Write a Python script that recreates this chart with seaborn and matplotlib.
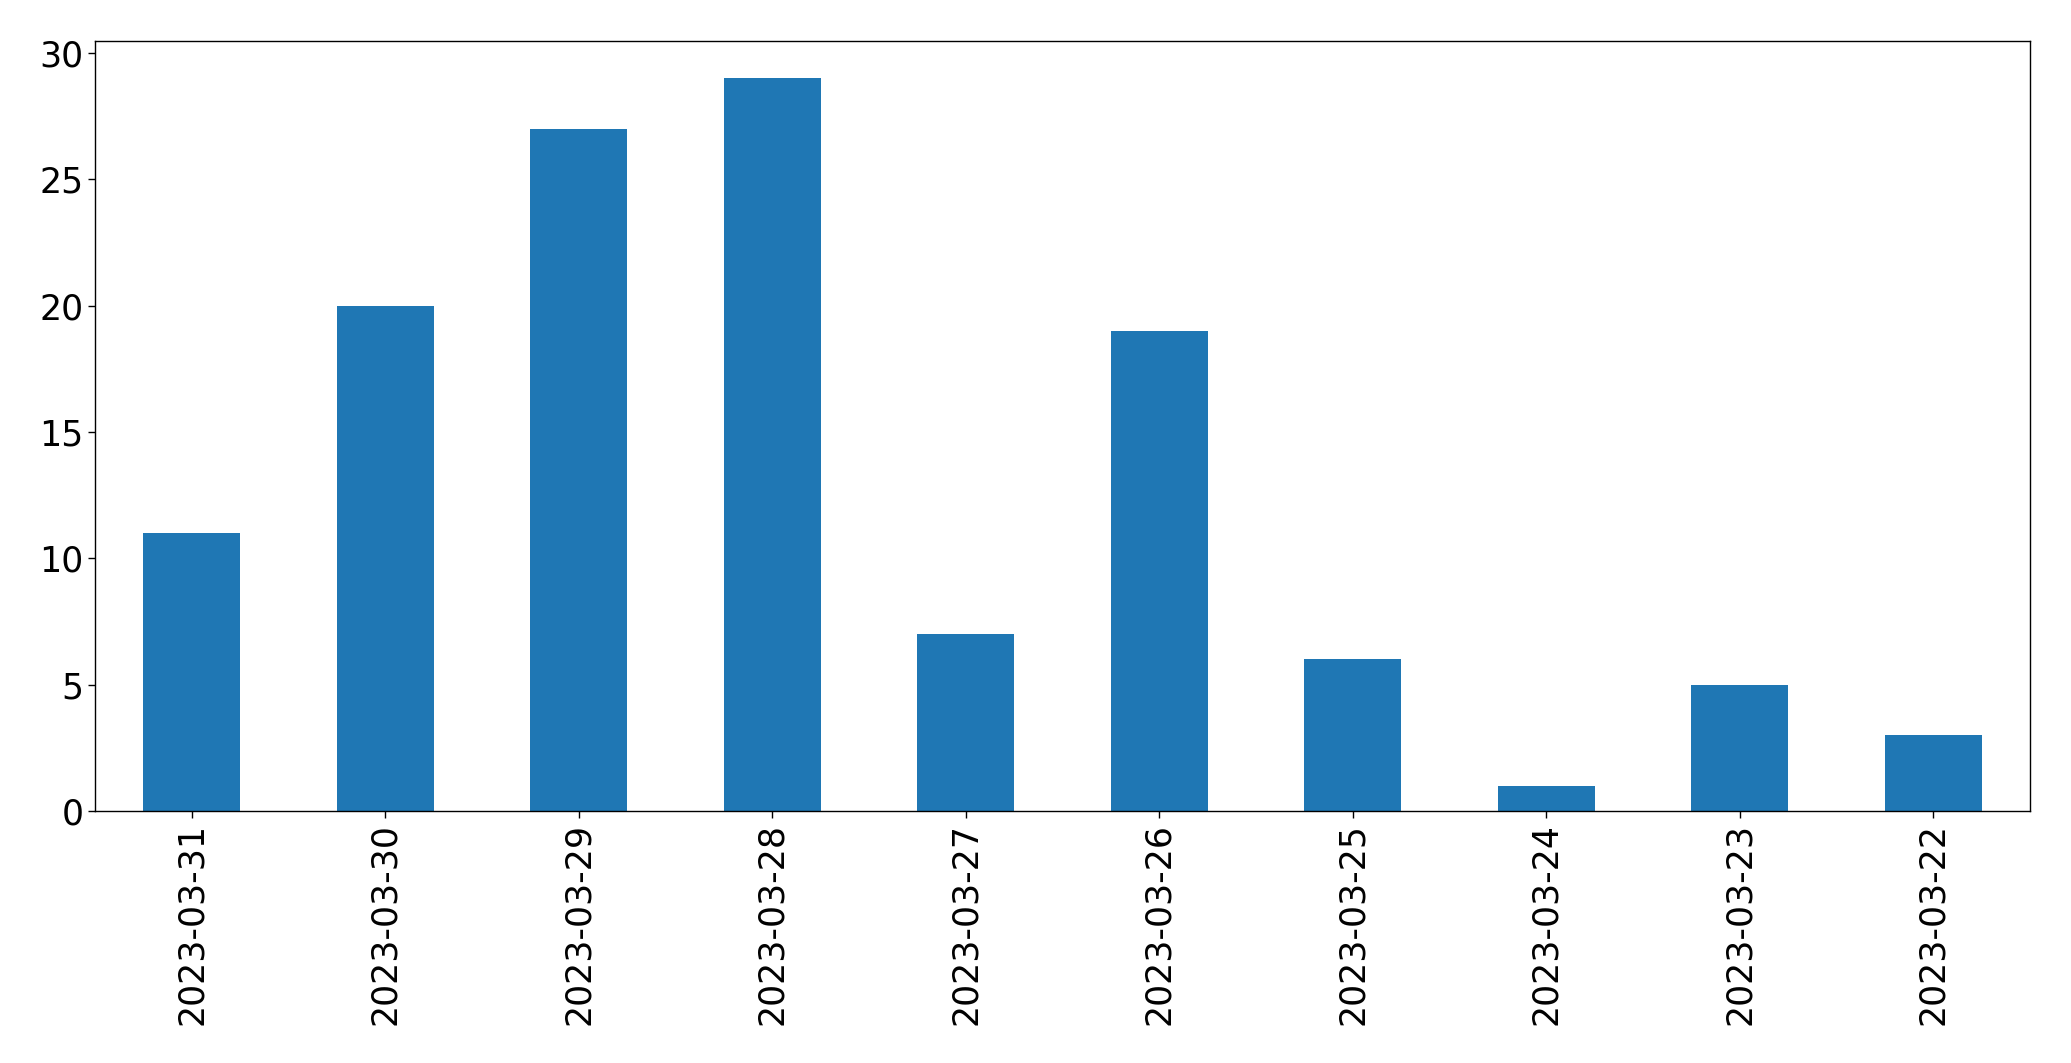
import matplotlib
matplotlib.use('Agg')
import matplotlib.pyplot as plt
import seaborn as sns
import pandas as pd

# Daily counts, newest first (as in the reference)
dates = ['2023-03-31', '2023-03-30', '2023-03-29', '2023-03-28', '2023-03-27',
         '2023-03-26', '2023-03-25', '2023-03-24', '2023-03-23', '2023-03-22']
counts = [11, 20, 27, 29, 7, 19, 6, 1, 5, 3]

df = pd.DataFrame({'date': dates, 'count': counts})

sns.set_style('ticks')
plt.rcParams['font.family'] = ['DejaVu Sans']
plt.rcParams['text.color'] = 'black'
plt.rcParams['xtick.color'] = 'black'
plt.rcParams['ytick.color'] = 'black'
plt.rcParams['axes.edgecolor'] = 'black'

fig = plt.figure(figsize=(20.71, 10.63), dpi=100)
ax = fig.add_axes([0.0459, 0.237, 0.9343, 0.724])

sns.barplot(data=df, x='date', y='count', order=dates, color='#1f77b4',
            saturation=1, width=0.5, linewidth=0, edgecolor='none', ax=ax)

ax.set_xlim(-0.5, len(dates) - 0.5)
ax.set_ylim(0, 30.45)
ax.set_xlabel('')
ax.set_ylabel('')
ax.tick_params(axis='both', labelsize=25, color='black', labelcolor='black',
               length=5, width=1)
ax.tick_params(axis='x', labelrotation=90)
for s in ax.spines.values():
    s.set_visible(True)
    s.set_color('black')
    s.set_linewidth(1.0)

fig.savefig('out.png', dpi=100)
